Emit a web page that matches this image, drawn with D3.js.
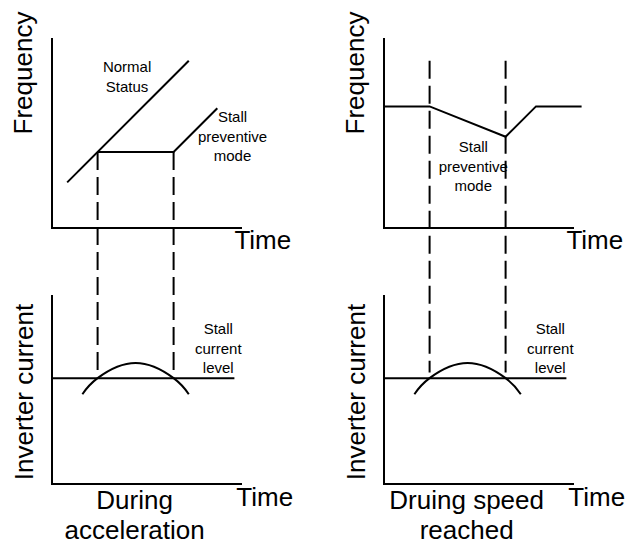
<!DOCTYPE html>
<html>
<head>
<meta charset="utf-8">
<script src="https://cdn.jsdelivr.net/npm/d3@7"></script>
<style>
  body { margin: 0; background: #fff; }
  svg { display: block; }
  .big { font-family: "Liberation Sans", Arial, sans-serif; font-size: 26px; fill: #000; }
  .small { font-family: "Liberation Sans", Arial, sans-serif; font-size: 15px; fill: #000; }
  .line { fill: none; stroke: #000; stroke-width: 2; }
</style>
</head>
<body>
<script>
// ---- data (time 0..100 along each x axis, level 0..100 along each y axis) ----
var normalStatus   = [[8, 24], [72, 88]];
var stallAccel     = [[24, 40], [64, 40], [87, 63]];
var freqSpeed      = [[0, 64], [24, 64], [64, 48], [80, 64], [104, 64]];
var currentArc     = [[16, 47.5], [24, 56], [44, 64], [64, 56], [72, 47.5]];
var stallLevel     = [[0, 56], [96, 56]];
var stallTimes     = [24, 64];       // where the dashed guides sit
var dashTopAccel   = 40;             // guide start, top panel (left)
var dashTopSpeed   = 88;             // guide start, top panel (right)
var dashBottom     = 59;             // guide end, bottom panel

var yTitles  = ["Frequency", "Inverter current"];
var xTitle   = "Time";
var captions = [["During", "acceleration"], ["Druing speed", "reached"]];
var noteNormal = ["Normal", "Status"];
var noteStall  = ["Stall", "preventive", "mode"];
var noteLevel  = ["Stall", "current", "level"];

var width = 626, height = 544;

var svg = d3.select("body").append("svg")
  .attr("width", width)
  .attr("height", height);

// one x scale per column, one y scale per row
var cols = [52, 384];
var xs = cols.map(function(c) {
  return d3.scaleLinear().domain([0, 100]).range([c, c + 190]);
});
var yTop = d3.scaleLinear().domain([0, 100]).range([228, 38]);
var yBot = d3.scaleLinear().domain([0, 100]).range([484, 295]);

function lineGen(x, y, curve) {
  return d3.line()
    .x(function(d) { return x(d[0]); })
    .y(function(d) { return y(d[1]); })
    .curve(curve || d3.curveLinear);
}

// axes (plain L shapes, no ticks)
[0, 1].forEach(function(ci) {
  var x = xs[ci];
  [yTop, yBot].forEach(function(y) {
    svg.append("path").attr("class", "line")
      .attr("d", lineGen(x, y)([[0, 100], [0, 0], [100, 0]]));
  });
});

// top-left: acceleration
svg.append("path").attr("class", "line").attr("d", lineGen(xs[0], yTop)(normalStatus));
svg.append("path").attr("class", "line").attr("d", lineGen(xs[0], yTop)(stallAccel));
// top-right: speed reached
svg.append("path").attr("class", "line").attr("d", lineGen(xs[1], yTop)(freqSpeed));

// bottom: stall level + current arc
[0, 1].forEach(function(ci) {
  svg.append("path").attr("class", "line").attr("d", lineGen(xs[ci], yBot)(stallLevel));
  svg.append("path").attr("class", "line")
    .attr("d", lineGen(xs[ci], yBot, d3.curveNatural)(currentArc));
});

// dashed guides spanning both rows
[[0, dashTopAccel], [1, dashTopSpeed]].forEach(function(p) {
  var x = xs[p[0]];
  svg.selectAll(null)
    .data(stallTimes)
    .enter().append("line")
    .attr("class", "line")
    .attr("stroke-dasharray", "18,7")
    .attr("x1", function(d) { return x(d); })
    .attr("x2", function(d) { return x(d); })
    .attr("y1", yTop(p[1]))
    .attr("y2", yBot(dashBottom));
});

// axis titles
[0, 1].forEach(function(ci) {
  var x0 = xs[ci].range()[0];
  svg.append("text").attr("class", "big")
    .attr("text-anchor", "middle")
    .attr("transform", "translate(" + (x0 - 20) + "," + 73 + ") rotate(-90)")
    .text(yTitles[0]);
  svg.append("text").attr("class", "big")
    .attr("text-anchor", "middle")
    .attr("transform", "translate(" + (x0 - 19) + "," + 392 + ") rotate(-90)")
    .text(yTitles[1]);
  svg.append("text").attr("class", "big")
    .attr("x", xs[ci](96)).attr("y", 249)
    .text(xTitle);
  svg.append("text").attr("class", "big")
    .attr("x", xs[ci](97)).attr("y", 506)
    .text(xTitle);
  svg.selectAll(null)
    .data(captions[ci])
    .enter().append("text")
    .attr("class", "big")
    .attr("text-anchor", "middle")
    .attr("x", xs[ci](43.5))
    .attr("y", function(d, i) { return 509 + i * 30; })
    .text(function(d) { return d; });
});

// small notes
function note(lines, x, y) {
  svg.selectAll(null)
    .data(lines)
    .enter().append("text")
    .attr("class", "small")
    .attr("text-anchor", "middle")
    .attr("x", x)
    .attr("y", function(d, i) { return y + i * 19.5; })
    .text(function(d) { return d; });
}
note(noteNormal, xs[0](39.5), 72);
note(noteStall, xs[0](95), 122);
note(noteStall, xs[1](47), 152);
note(noteLevel, xs[0](87.5), 334);
note(noteLevel, xs[1](87.5), 334);
</script>
</body>
</html>
